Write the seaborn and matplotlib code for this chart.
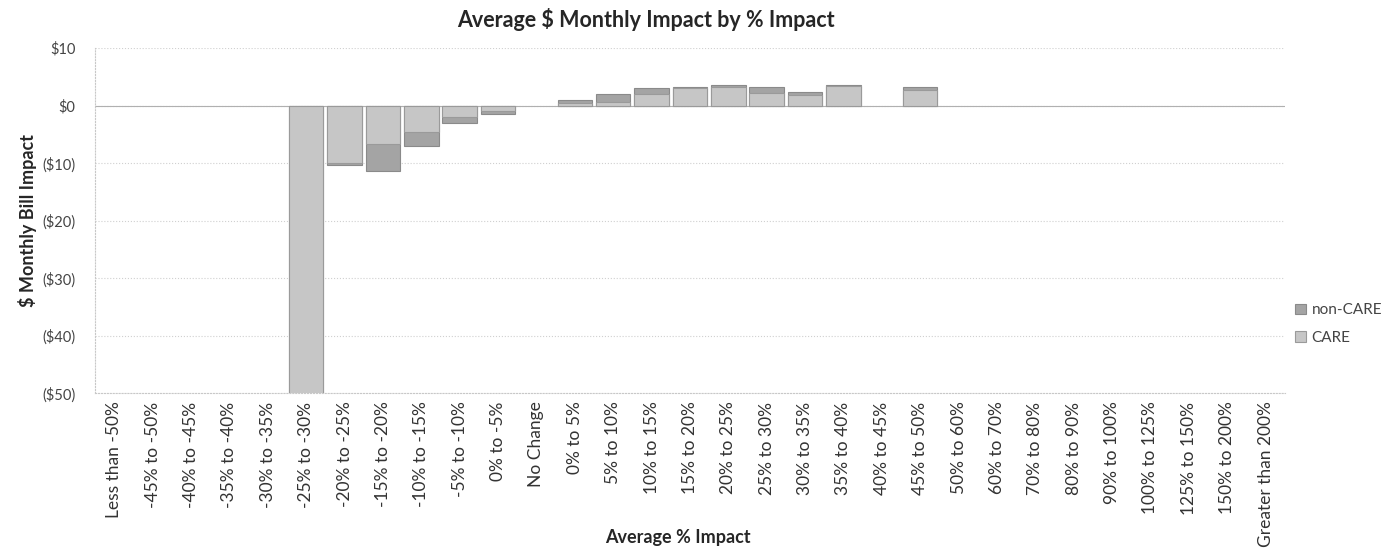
#!/usr/bin/env python3

import numpy as np
import pandas as pd
import seaborn as sns
import matplotlib.pyplot as plt

# Category labels along the x axis
categories = ['Less than -50%', '-45% to -50%', '-40% to -45%', '-35% to -40%', '-30% to -35%',
              '-25% to -30%', '-20% to -25%', '-15% to -20%', '-10% to -15%', '-5% to -10%',
              '0% to -5%', 'No Change', '0% to 5%', '5% to 10%', '10% to 15%', '15% to 20%',
              '20% to 25%', '25% to 30%', '30% to 35%', '35% to 40%', '40% to 45%', '45% to 50%',
              '50% to 60%', '60% to 70%', '70% to 80%', '80% to 90%', '90% to 100%',
              '100% to 125%', '125% to 150%', '150% to 200%', 'Greater than 200%']

# Average $ monthly impact per series (NaN = no bar)
non_care = [np.nan, np.nan, np.nan, np.nan, np.nan, -54.0, -10.4, -11.3, -7.0, -3.0,
            -1.4, np.nan, 0.9, 2.1, 3.0, 3.3, 3.6, 3.3, 2.4, 3.6, np.nan, 3.3,
            np.nan, np.nan, np.nan, np.nan, np.nan, np.nan, np.nan, np.nan, np.nan]
care = [np.nan, np.nan, np.nan, np.nan, np.nan, -51.0, -10.0, -6.6, -4.5, -2.0,
        -0.9, np.nan, 0.5, 0.7, 2.0, 3.0, 3.2, 2.2, 1.8, 3.4, np.nan, 2.8,
        np.nan, np.nan, np.nan, np.nan, np.nan, np.nan, np.nan, np.nan, np.nan]

y_ticks = [10, 0, -10, -20, -30, -40, -50]
y_tick_labels = ['$10', '$0', '($10)', '($20)', '($30)', '($40)', '($50)']

df_nc = pd.DataFrame({'cat': categories, 'val': non_care})
df_c = pd.DataFrame({'cat': categories, 'val': care})

sns.set_style('white')
plt.rcParams['font.family'] = ['Lato', 'DejaVu Sans']

fig, ax = plt.subplots(figsize=(13.98, 5.53), dpi=100)
fig.subplots_adjust(left=0.068, right=0.919, top=0.913, bottom=0.289)

# Both series sit on the same slot (100% overlap)
sns.barplot(data=df_nc, x='cat', y='val', order=categories, color='#a4a4a4',
            edgecolor='#8a8a8a', linewidth=0.8, width=0.9, ax=ax, label='non-CARE', zorder=2)
sns.barplot(data=df_c, x='cat', y='val', order=categories, color='#c6c6c6',
            edgecolor='#9a9a9a', linewidth=0.8, width=0.9, ax=ax, label='CARE', zorder=3)

ax.set_ylim(-50, 10)
ax.set_xlim(-0.5, len(categories) - 0.5)
ax.set_yticks(y_ticks)
ax.set_yticklabels(y_tick_labels, fontsize=10.5, color='#444444')
ax.tick_params(axis='x', labelrotation=90, labelsize=12.5, labelcolor='#333333', length=0, pad=6)
ax.tick_params(axis='y', length=0, pad=14)

ax.yaxis.grid(True, color='#d0d0d0', linewidth=0.8, linestyle=':')
ax.set_axisbelow(True)
ax.axhline(0, color='#b0b0b0', linewidth=0.8, zorder=1)

for s in ['top', 'right']:
    ax.spines[s].set_visible(False)
for s in ['left', 'bottom']:
    ax.spines[s].set_color('#c8c8c8')
    ax.spines[s].set_linestyle(':')

ax.set_xlabel('Average % Impact', fontsize=13, fontweight='bold', va='center')
ax.xaxis.set_label_coords(0.49, -0.417)
ax.set_ylabel('$ Monthly Bill Impact', fontsize=13, fontweight='bold', labelpad=4)

fig.text(0.462, 0.965, 'Average $ Monthly Impact by % Impact', fontsize=15.5,
         fontweight='bold', ha='center', va='center')

leg = ax.legend(loc='center left', bbox_to_anchor=(0.997, 0.2), frameon=False,
                fontsize=11, handlelength=0.7, handleheight=0.7, labelspacing=0.9,
                handletextpad=0.4)
for t in leg.get_texts():
    t.set_color('#444444')

plt.savefig('out.png', dpi=100)
